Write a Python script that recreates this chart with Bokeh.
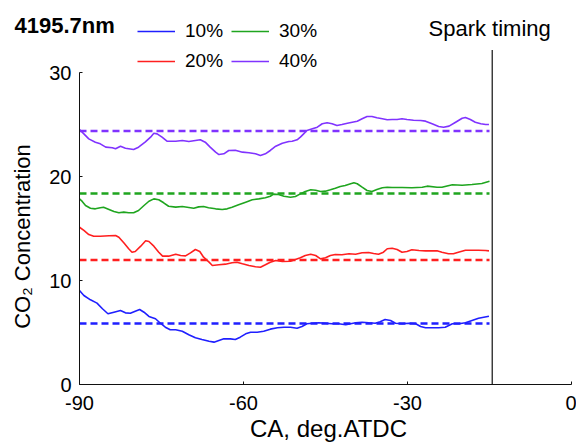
from bokeh.plotting import figure
from bokeh.models import Range1d, Label, FixedTicker, Legend, LegendItem
from bokeh.embed import file_html
from bokeh.resources import INLINE

# ---- data ----
ca_10 = [-90, -89.2, -88.0, -86.8, -85.8, -84.8, -83.7, -82.5, -81.6, -80.7, -79.8, -79.0, -78.2, -77.3,
         -76.1, -75.2, -74.3, -73.4, -72.4, -71.2, -70.0, -68.8, -67.6, -66.3, -65.4, -64.5, -63.6, -62.4,
         -61.5, -60.6, -59.6, -58.7, -57.5, -56.3, -55.1, -53.8, -52.6, -51.4, -50.2, -49.3, -48.4, -47.5,
         -46.2, -45.0, -43.8, -42.6, -41.3, -40.4, -39.5, -38.3, -37.1, -35.9, -35.0, -34.1, -33.1, -32.2,
         -31.0, -29.8, -28.5, -27.6, -26.7, -25.5, -24.3, -23.1, -21.8, -20.6, -19.4, -18.2, -17.0, -15.1]
co2_10 = [9.07, 8.59, 8.17, 7.85, 7.31, 6.83, 6.98, 7.14, 6.92, 6.88, 7.08, 7.24, 6.98, 6.57,
          6.35, 5.92, 5.54, 5.29, 5.29, 5.15, 4.81, 4.52, 4.36, 4.19, 4.10, 4.26, 4.42, 4.42,
          4.36, 4.58, 4.90, 5.06, 5.06, 5.15, 5.35, 5.48, 5.54, 5.54, 5.44, 5.61, 5.87, 5.92,
          5.96, 5.92, 5.87, 5.87, 5.77, 5.87, 5.96, 6.02, 5.96, 5.92, 6.06, 6.28, 6.18, 5.92,
          5.87, 5.92, 5.87, 5.61, 5.48, 5.48, 5.48, 5.54, 5.87, 5.87, 5.96, 6.18, 6.40, 6.60]

ca_20 = [-90, -89.2, -88.3, -87.4, -86.2, -84.6, -83.4, -82.8, -81.9, -81.0, -80.4, -79.8, -78.8, -77.9,
         -77.3, -76.4, -75.5, -74.8, -73.7, -72.4, -71.5, -70.6, -69.7, -68.8, -68.0, -67.3, -66.3, -65.7,
         -64.5, -63.3, -62.1, -61.2, -60.2, -59.0, -57.8, -56.9, -56.0, -55.1, -54.1, -52.9,
         -51.4, -50.5, -49.6, -48.7, -47.7, -46.8, -45.9, -45.0, -44.1, -43.2, -42.0, -40.7, -39.5,
         -38.3, -37.1, -36.2, -35.3, -34.4, -33.7, -32.8, -31.9, -31.0, -30.1, -29.2, -27.9, -26.7,
         -25.5, -24.6, -23.7, -22.5, -21.6, -20.7, -19.4, -18.2, -17.0, -15.7, -15.1]
co2_20 = [15.15, 14.84, 14.45, 14.29, 14.29, 14.33, 14.36, 14.19, 13.65, 13.08, 12.75, 12.82, 13.33, 13.85,
          13.78, 13.33, 12.75, 12.37, 12.37, 12.56, 12.43, 12.40, 12.69, 13.01, 12.82, 12.27, 11.79, 11.47,
          11.54, 11.60, 11.73, 11.79, 11.63, 11.47, 11.35, 11.31, 11.54, 11.79, 11.95, 11.86,
          11.88, 12.05, 12.21, 12.43, 12.56, 12.43, 12.11, 12.21, 12.43, 12.53, 12.50, 12.60, 12.56,
          12.69, 12.72, 12.63, 12.56, 12.75, 13.08, 13.13, 13.01, 12.75, 12.82, 12.98, 12.91, 12.88,
          12.88, 12.88, 12.75, 12.60, 12.60, 12.75, 12.94, 12.94, 12.94, 12.91, 12.88]

ca_30 = [-90, -89.5, -88.9, -88.0, -87.1, -86.2, -85.6, -84.6, -83.7, -82.8, -81.9, -81.0, -80.1, -79.2,
         -78.2, -77.3, -76.4, -75.5, -74.6, -73.7, -72.4, -71.2, -70.0, -69.1, -68.2, -67.3, -66.4, -65.1,
         -63.9, -63.0, -62.1, -60.9, -59.6, -58.4, -57.2, -56.0, -55.1, -54.5, -53.6, -52.6,
         -51.4, -50.5, -49.6, -48.7, -47.7, -46.8, -45.9, -45.0, -44.1, -43.2, -42.3, -41.4, -40.4,
         -39.8, -39.2, -38.3, -37.4, -36.5, -35.6, -34.6, -33.7, -32.8, -31.0, -29.2, -27.3, -26.4,
         -24.6, -23.7, -21.8, -20.0, -18.2, -16.4, -15.0]
co2_30 = [17.88, 17.63, 17.24, 16.98, 16.92, 17.02, 17.08, 16.86, 16.66, 16.54, 16.60, 16.54, 16.54, 16.76,
          17.24, 17.65, 17.88, 17.79, 17.50, 17.17, 17.08, 17.14, 17.05, 16.98, 17.11, 17.14, 17.02, 16.92,
          16.86, 16.92, 17.08, 17.31, 17.56, 17.79, 17.88, 17.98, 18.13, 18.33, 18.30, 18.13,
          18.04, 18.10, 18.36, 18.59, 18.75, 18.71, 18.59, 18.62, 18.75, 18.90, 19.07, 19.16, 19.33,
          19.42, 19.33, 19.00, 18.68, 18.59, 18.78, 18.94, 19.00, 18.97, 18.97, 18.94, 19.00, 19.10,
          19.00, 19.00, 19.23, 19.19, 19.26, 19.36, 19.58]

ca_40 = [-90, -89.2, -88.3, -87.1, -86.2, -85.2, -84.0, -83.4, -82.5, -81.6, -80.1, -79.2, -78.0, -77.0,
         -76.4, -75.8, -74.9, -74.0, -72.4, -71.2, -70.0, -67.9, -67.0, -66.1, -65.1, -64.5, -63.6, -62.7,
         -61.5, -60.2, -59.0, -57.8, -56.9, -56.0, -55.1, -54.1, -52.9, -51.7,
         -51.1, -50.2, -49.6, -49.0, -48.4, -47.4, -46.5, -45.6, -44.7, -43.8, -42.9, -42.0, -41.0,
         -40.1, -39.2, -38.3, -37.4, -36.5, -35.6, -34.6, -33.7, -32.8, -31.9, -31.0, -30.1, -28.9,
         -27.6, -26.7, -25.5, -24.3, -23.4, -22.4, -21.2, -20.0, -19.4, -18.5, -17.6, -16.6, -15.7, -15.1]
co2_40 = [24.55, 24.13, 23.65, 23.33, 23.17, 22.85, 22.79, 22.69, 22.94, 22.75, 22.63, 22.85, 23.33, 23.81,
          24.19, 24.13, 23.81, 23.42, 23.42, 23.49, 23.39, 23.56, 23.33, 22.85, 22.37, 22.14, 22.21, 22.53,
          22.56, 22.37, 22.31, 22.21, 22.05, 22.21, 22.53, 22.94, 23.23, 23.39,
          23.42, 23.56, 23.81, 24.13, 24.45, 24.62, 24.77, 25.10, 25.19, 25.10, 24.93, 25.03, 25.15,
          25.25, 25.35, 25.58, 25.80, 25.80, 25.67, 25.58, 25.48, 25.51, 25.51, 25.58, 25.51, 25.44,
          25.41, 25.35, 25.10, 24.84, 24.77, 24.87, 25.25, 25.63, 25.70, 25.51, 25.25, 25.10, 25.03, 25.03]

series_labels = ["10%", "20%", "30%", "40%"]
series_colors = ["#1f1fff", "#ff1f1f", "#1fa51f", "#8033ff"]
mean_levels = [5.9, 12.0, 18.4, 24.4]
ref_ca = [-90, -15]
spark_ca = -14.5
spark_top = 32.2

x_ticks = [-90, -60, -30, 0]
x_tick_labels = ["-90", "-60", "-30", "0"]
y_ticks = [0, 10, 20, 30]
y_tick_labels = ["0", "10", "20", "30"]

FONT = "Liberation Sans"
W, H = 576, 443

# The frame covers the whole page; both axes are pinned (fixed_location)
# so that -90 deg sits at x=79 px and 0 % sits at y=384 px.
PX_X = (571 - 79) / 90.0          # px per degree
PX_Y = 10.4                       # px per % unit
x_start = -90 - 79 / PX_X
x_end = (W - 571) / PX_X
y_start = -(H - 384.3) / PX_Y
y_end = 384.3 / PX_Y

p = figure(width=W, height=H, output_backend="svg", toolbar_location=None,
           x_range=Range1d(x_start, x_end), y_range=Range1d(y_start, y_end),
           min_border_left=0, min_border_right=0, min_border_top=0, min_border_bottom=0)
p.outline_line_color = None
p.xgrid.visible = False
p.ygrid.visible = False
p.background_fill_color = "white"
p.border_fill_color = "white"

xs = [ca_10, ca_20, ca_30, ca_40]
ys = [co2_10, co2_20, co2_30, co2_40]
renderers = []
for x, y, c, m in zip(xs, ys, series_colors, mean_levels):
    p.line(ref_ca, [m, m], line_color=c, line_width=2.5, line_dash="7 4")
    r = p.line(x, y, line_color=c, line_width=1.6)
    renderers.append(r)

p.segment(x0=[spark_ca], y0=[0], x1=[spark_ca], y1=[spark_top], line_color="#222222", line_width=1.3)

for ax in (p.xaxis[0], p.yaxis[0]):
    ax.major_tick_in = 3
    ax.major_tick_out = 0
    ax.minor_tick_line_color = None
    ax.axis_line_color = "#111111"
    ax.major_tick_line_color = "#111111"
    ax.major_label_text_font = FONT
    ax.major_label_text_font_size = "20px"
    ax.major_label_text_color = "black"

p.xaxis.ticker = FixedTicker(ticks=x_ticks)
p.yaxis.ticker = FixedTicker(ticks=y_ticks)
p.xaxis.major_label_overrides = dict(zip(x_ticks, x_tick_labels))
p.yaxis.major_label_overrides = dict(zip(y_ticks, y_tick_labels))
p.xaxis.bounds = (-90, 0)
p.yaxis.bounds = (0, 30)
p.yaxis.fixed_location = -90
p.xaxis.fixed_location = 0
p.xaxis.major_label_standoff = 11
p.yaxis.major_label_standoff = 8

# axis titles as labels placed like the reference
p.add_layout(Label(x=328, y=H - 428, x_units="screen", y_units="screen", text="CA, deg.ATDC",
                   text_font=FONT, text_font_size="24px", text_baseline="middle", text_align="center",
                   text_color="black"))
p.add_layout(Label(x=22, y=H - 236, x_units="screen", y_units="screen", text="CO\u2082 Concentration",
                   angle=90, angle_units="deg",
                   text_font=FONT, text_font_size="22px", text_baseline="middle", text_align="center",
                   text_color="black"))

items = [LegendItem(label=lab, renderers=[r]) for lab, r in zip(series_labels, renderers)]
leg = Legend(items=items, ncols=2, location=(137, H - 71.5),
             label_text_font=FONT, label_text_font_size="19px", label_text_color="black",
             glyph_width=38, glyph_height=20, label_height=20, label_width=23, label_standoff=10,
             spacing=8, padding=0, margin=0, border_line_color=None, background_fill_alpha=0)
p.add_layout(leg, "center")

p.add_layout(Label(x=14, y=H - 25, x_units="screen", y_units="screen", text="4195.7nm",
                   text_font=FONT, text_font_size="22px", text_font_style="bold",
                   text_baseline="middle", text_align="left", text_color="black"))
p.add_layout(Label(x=428, y=H - 28, x_units="screen", y_units="screen", text="Spark timing",
                   text_font=FONT, text_font_size="22px", text_font_style="normal",
                   text_baseline="middle", text_align="left", text_color="black"))

open("out.html", "w").write(file_html(p, INLINE))
